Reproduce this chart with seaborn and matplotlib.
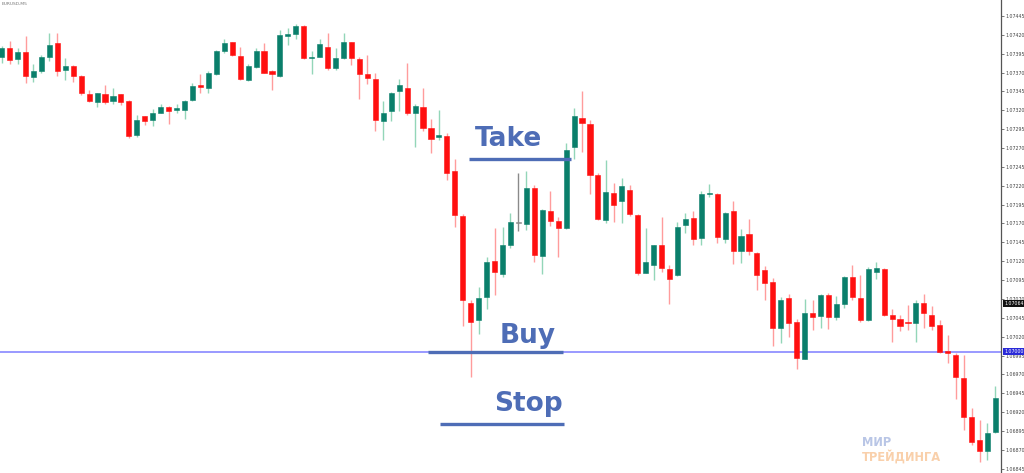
import matplotlib
matplotlib.use("Agg")
import matplotlib.pyplot as plt
import numpy as np
import seaborn as sns

# EURUSD M5 candles (price)
opens = [
    1.07390, 1.07403, 1.07388, 1.07397, 1.07364, 1.07372, 1.07390, 1.07409, 1.07373, 1.07379,
    1.07366, 1.07341, 1.07331, 1.07341, 1.07332, 1.07341, 1.07333, 1.07287, 1.07312, 1.07307,
    1.07317, 1.07325, 1.07320, 1.07321, 1.07334, 1.07354, 1.07350, 1.07368, 1.07399, 1.07410,
    1.07392, 1.07360, 1.07378, 1.07399, 1.07372, 1.07365, 1.07419, 1.07421, 1.07432, 1.07389,
    1.07391, 1.07404, 1.07376, 1.07389, 1.07410, 1.07388, 1.07368, 1.07362, 1.07306, 1.07319,
    1.07345, 1.07349, 1.07317, 1.07325, 1.07296, 1.07284, 1.07286, 1.07240, 1.07180, 1.07065,
    1.07042, 1.07072, 1.07120, 1.07103, 1.07141, 1.07171, 1.07169, 1.07217, 1.07127, 1.07186,
    1.07173, 1.07164, 1.07272, 1.07310, 1.07302, 1.07234, 1.07175, 1.07211, 1.07200, 1.07214,
    1.07181, 1.07105, 1.07115, 1.07141, 1.07110, 1.07102, 1.07168, 1.07177, 1.07151, 1.07209,
    1.07209, 1.07150, 1.07186, 1.07133, 1.07156, 1.07131, 1.07108, 1.07092, 1.07032, 1.07071,
    1.07040, 1.06991, 1.07052, 1.07047, 1.07075, 1.07046, 1.07063, 1.07099, 1.07071, 1.07042,
    1.07106, 1.07110, 1.07049, 1.07044, 1.07039, 1.07038, 1.07065, 1.07049, 1.07035, 1.07001,
    1.06996, 1.06965, 1.06914, 1.06883, 1.06868, 1.06893,
]
highs = [
    1.07405, 1.07412, 1.07402, 1.07418, 1.07381, 1.07393, 1.07422, 1.07423, 1.07389, 1.07380,
    1.07367, 1.07347, 1.07343, 1.07354, 1.07350, 1.07342, 1.07334, 1.07314, 1.07313, 1.07322,
    1.07328, 1.07326, 1.07328, 1.07334, 1.07356, 1.07368, 1.07372, 1.07400, 1.07414, 1.07411,
    1.07404, 1.07381, 1.07402, 1.07409, 1.07373, 1.07427, 1.07429, 1.07434, 1.07433, 1.07398,
    1.07415, 1.07423, 1.07402, 1.07422, 1.07411, 1.07390, 1.07393, 1.07369, 1.07333, 1.07344,
    1.07362, 1.07383, 1.07328, 1.07350, 1.07308, 1.07321, 1.07290, 1.07256, 1.07182, 1.07069,
    1.07086, 1.07125, 1.07164, 1.07166, 1.07184, 1.07237, 1.07240, 1.07221, 1.07189, 1.07213,
    1.07179, 1.07277, 1.07323, 1.07345, 1.07307, 1.07237, 1.07254, 1.07223, 1.07230, 1.07221,
    1.07182, 1.07164, 1.07142, 1.07178, 1.07115, 1.07172, 1.07184, 1.07186, 1.07213, 1.07222,
    1.07210, 1.07185, 1.07200, 1.07163, 1.07176, 1.07132, 1.07114, 1.07098, 1.07073, 1.07077,
    1.07044, 1.07070, 1.07069, 1.07077, 1.07078, 1.07074, 1.07100, 1.07115, 1.07102, 1.07112,
    1.07119, 1.07111, 1.07057, 1.07049, 1.07062, 1.07069, 1.07077, 1.07060, 1.07042, 1.07022,
    1.06999, 1.06996, 1.06925, 1.06909, 1.06906, 1.06955,
]
lows = [
    1.07383, 1.07382, 1.07381, 1.07356, 1.07357, 1.07370, 1.07385, 1.07365, 1.07360, 1.07358,
    1.07340, 1.07331, 1.07325, 1.07329, 1.07329, 1.07327, 1.07283, 1.07284, 1.07300, 1.07299,
    1.07316, 1.07302, 1.07317, 1.07309, 1.07333, 1.07343, 1.07343, 1.07367, 1.07396, 1.07392,
    1.07360, 1.07359, 1.07376, 1.07369, 1.07347, 1.07364, 1.07407, 1.07414, 1.07388, 1.07368,
    1.07390, 1.07374, 1.07374, 1.07388, 1.07380, 1.07335, 1.07355, 1.07292, 1.07281, 1.07306,
    1.07319, 1.07314, 1.07271, 1.07292, 1.07263, 1.07280, 1.07227, 1.07166, 1.07034, 1.06966,
    1.07023, 1.07056, 1.07075, 1.07099, 1.07137, 1.07160, 1.07161, 1.07119, 1.07103, 1.07167,
    1.07125, 1.07163, 1.07256, 1.07265, 1.07209, 1.07175, 1.07170, 1.07172, 1.07170, 1.07180,
    1.07102, 1.07104, 1.07095, 1.07106, 1.07063, 1.07101, 1.07157, 1.07141, 1.07141, 1.07205,
    1.07144, 1.07144, 1.07116, 1.07117, 1.07128, 1.07082, 1.07068, 1.07007, 1.07012, 1.07020,
    1.06977, 1.06990, 1.07029, 1.07031, 1.07030, 1.07042, 1.07058, 1.07069, 1.07040, 1.07041,
    1.07096, 1.07047, 1.07013, 1.07027, 1.07029, 1.07013, 1.07031, 1.07029, 1.06999, 1.06985,
    1.06937, 1.06896, 1.06876, 1.06854, 1.06856, 1.06892,
]
closes = [
    1.07403, 1.07387, 1.07397, 1.07365, 1.07372, 1.07391, 1.07407, 1.07372, 1.07379, 1.07365,
    1.07343, 1.07333, 1.07343, 1.07331, 1.07339, 1.07331, 1.07286, 1.07307, 1.07306, 1.07317,
    1.07325, 1.07319, 1.07323, 1.07332, 1.07352, 1.07351, 1.07369, 1.07399, 1.07409, 1.07393,
    1.07362, 1.07379, 1.07399, 1.07370, 1.07368, 1.07420, 1.07421, 1.07432, 1.07389, 1.07391,
    1.07408, 1.07376, 1.07389, 1.07411, 1.07389, 1.07368, 1.07363, 1.07307, 1.07317, 1.07343,
    1.07353, 1.07317, 1.07326, 1.07296, 1.07282, 1.07287, 1.07237, 1.07181, 1.07069, 1.07040,
    1.07071, 1.07119, 1.07106, 1.07141, 1.07172, 1.07171, 1.07217, 1.07128, 1.07188, 1.07173,
    1.07164, 1.07267, 1.07312, 1.07303, 1.07234, 1.07176, 1.07212, 1.07195, 1.07220, 1.07182,
    1.07105, 1.07119, 1.07141, 1.07111, 1.07096, 1.07166, 1.07176, 1.07150, 1.07209, 1.07210,
    1.07152, 1.07184, 1.07134, 1.07154, 1.07134, 1.07102, 1.07091, 1.07032, 1.07069, 1.07038,
    1.06992, 1.07052, 1.07046, 1.07075, 1.07046, 1.07063, 1.07099, 1.07072, 1.07042, 1.07110,
    1.07111, 1.07049, 1.07044, 1.07034, 1.07038, 1.07064, 1.07051, 1.07034, 1.07000, 1.06999,
    1.06966, 1.06913, 1.06881, 1.06868, 1.06892, 1.06939,
]

price_ticks = [
    1.06845, 1.06870, 1.06895, 1.06920, 1.06945, 1.06970, 1.06995, 1.07020, 1.07045,
    1.07070, 1.07095, 1.07120, 1.07145, 1.07170, 1.07195, 1.07220, 1.07245, 1.07270,
    1.07295, 1.07320, 1.07345, 1.07370, 1.07395, 1.07420, 1.07445,
]

# trade levels drawn on the chart
level_names = ["Take", "Buy", "Stop"]
level_prices = [1.072555, 1.07000, 1.06904]
entry_price = 1.07000
last_marker = 1.07064

GREEN = "#0a7f6b"
RED = "#ff1010"
GRAY = "#8a8a8a"
LEVEL_BLUE = "#4e6db6"

sns.set_theme(style="white")

fig = plt.figure(figsize=(10.24, 4.73), dpi=100)
ax = fig.add_axes([0, 0, 1001 / 1024, 1])

o = np.array(opens)
h = np.array(highs)
l = np.array(lows)
c = np.array(closes)
x = np.arange(len(o))

up = c > o
down = c < o
body_cols = np.where(up, GREEN, np.where(down, RED, GRAY))
wick_cols = np.where(up, "#93d6b8", np.where(down, "#ff9c9c", GRAY))

ax.vlines(x, l, h, colors=wick_cols, lw=1.0, zorder=2)
bottoms = np.minimum(o, c)
heights = np.maximum(np.abs(c - o), 0.000012)
ax.bar(x, heights, bottom=bottoms, width=0.64, color=body_cols,
       edgecolor=body_cols, linewidth=0.4, zorder=3)

# entry line across the chart
ax.axhline(entry_price, color="#7d7dff", lw=1.1, zorder=1)

# Take / Buy / Stop annotations
seg_x = {"Take": (58.8, 71.6), "Buy": (53.6, 70.6), "Stop": (55.1, 70.7)}
text_pos = {"Take": (63.7, 1.07282), "Buy": (66.2, 1.07021), "Stop": (66.2, 1.06931)}
for name, price in zip(level_names, level_prices):
    x0, x1 = seg_x[name]
    ax.plot([x0, x1], [price, price], color=LEVEL_BLUE, lw=2.4,
            solid_capstyle="butt", zorder=4)
    tx, ty = text_pos[name]
    ax.text(tx, ty, name, color=LEVEL_BLUE, fontsize=19, fontweight="bold",
            ha="center", va="center", family="DejaVu Sans", zorder=5)

ax.set_xlim(-0.21, 125.7)
ax.set_ylim(1.068393, 1.074662)

ax.yaxis.tick_right()
ax.set_yticks(price_ticks)
ax.set_yticklabels([f"{p:.5f}" for p in price_ticks])
ax.tick_params(axis="y", labelsize=3.4, length=2, width=0.5, pad=1.5,
               colors="#444444", right=True, left=False)
ax.set_xticks([])
for side in ["top", "left", "bottom"]:
    ax.spines[side].set_visible(False)
ax.spines["right"].set_color("#555555")
ax.spines["right"].set_linewidth(0.9)

# price boxes on the scale
ax.text(1.003, last_marker, f"{last_marker:.5f}", transform=ax.get_yaxis_transform(),
        fontsize=3.4, color="white", va="center", ha="left", zorder=6,
        bbox=dict(boxstyle="square,pad=0.25", fc="#111111", ec="none"), clip_on=False)
ax.text(1.003, entry_price, f"{entry_price:.5f}", transform=ax.get_yaxis_transform(),
        fontsize=3.4, color="white", va="center", ha="left", zorder=6,
        bbox=dict(boxstyle="square,pad=0.25", fc="#2a2ad8", ec="none"), clip_on=False)

fig.text(0.002, 0.995, "EURUSD,M5", fontsize=3.2, color="#777777", va="top", ha="left")

# watermark
fig.text(862 / 1024, 1 - 443 / 473, "МИР", fontsize=8.3, fontweight="bold",
         color="#b9c6e6", va="center", ha="left")
fig.text(862 / 1024, 1 - 457 / 473, "ТРЕЙДИНГА", fontsize=8.3, fontweight="bold",
         color="#f9d0ab", va="center", ha="left")

fig.savefig("out.png", dpi=100, facecolor="white")
